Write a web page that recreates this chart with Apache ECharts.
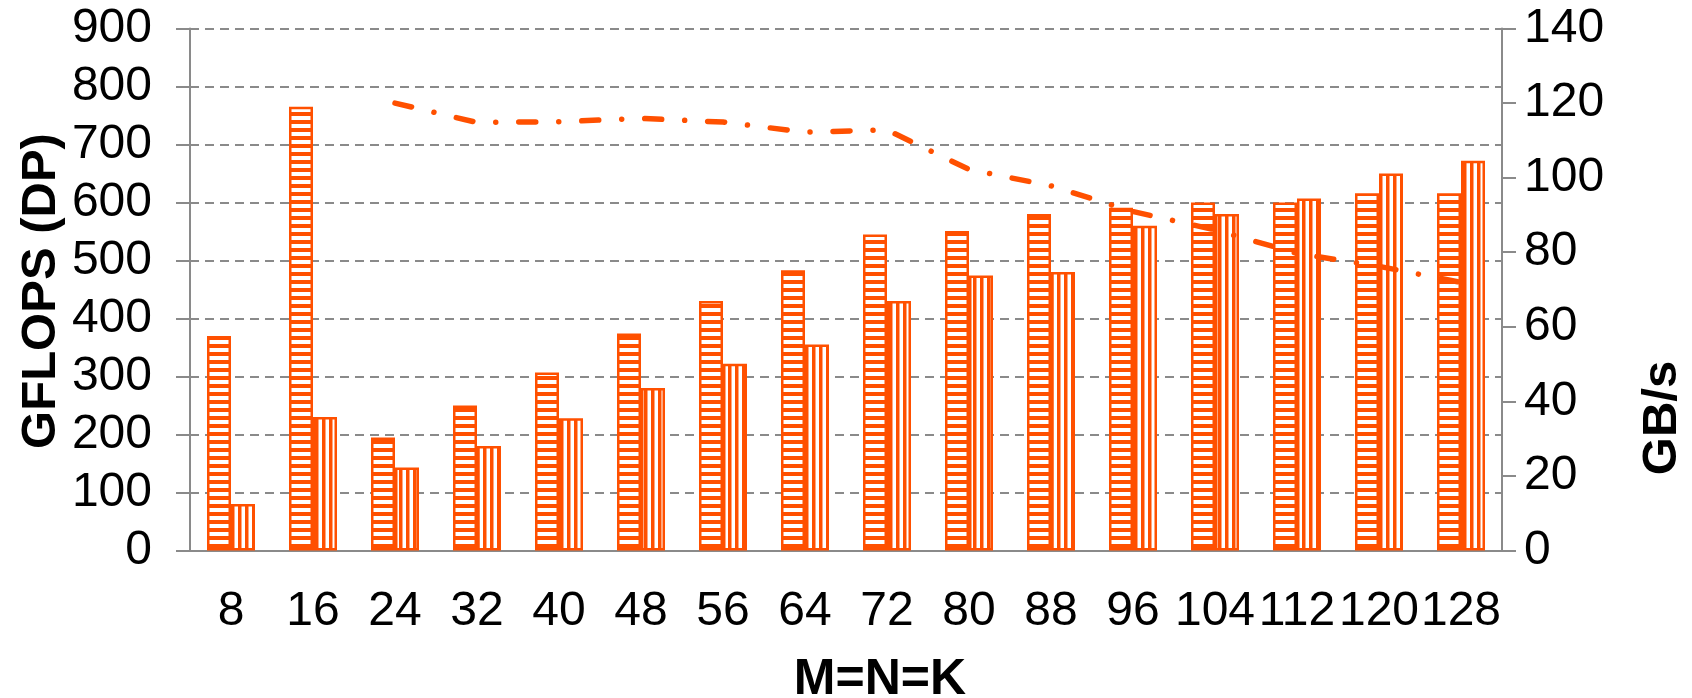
<!DOCTYPE html>
<html>
<head>
<meta charset="utf-8">
<script src="https://cdn.jsdelivr.net/npm/echarts@6/dist/echarts.min.js"></script>
<style>
  html, body { margin: 0; padding: 0; background: #fff; }
  #chart { width: 1692px; height: 698px; }
</style>
</head>
<body>
<div id="chart"></div>
<script>
// M=N=K sizes
const categories = ['8', '16', '24', '32', '40', '48', '56', '64', '72', '80', '88', '96', '104', '112', '120', '128'];
// GFLOPS (DP), horizontal-striped bars
const gflopsA = [370, 765, 195, 250, 307, 374, 430, 483, 545, 551, 580, 591, 600, 600, 616, 616];
// GFLOPS (DP), vertical-striped bars
const gflopsB = [80, 230, 143, 180, 228, 280, 322, 355, 430, 474, 480, 560, 580, 607, 650, 672];
// GB/s, dash-dot line (none for 8 and 16)
const bandwidth = [null, null, 120, 114.8, 115, 115.9, 114.9, 112.2, 112.8, 102.2, 97.8, 90.9, 86, 79.7, 76.2, 71.9];
const leftTicks = [0, 100, 200, 300, 400, 500, 600, 700, 800, 900];
const rightTicks = [0, 20, 40, 60, 80, 100, 120, 140];

const ORANGE = '#FF5000';
const GREY = '#8A8A8A';
const FONT = '"Liberation Sans", Arial, sans-serif';

// stripe fills for the bars
function stripes(horizontal) {
  const c = document.createElement('canvas');
  const ctx = c.getContext('2d');
  if (horizontal) {
    c.width = 8; c.height = 8;
    ctx.fillStyle = '#fff'; ctx.fillRect(0, 0, 8, 8);
    ctx.fillStyle = ORANGE; ctx.fillRect(0, 0, 8, 4);
  } else {
    c.width = 7; c.height = 7;
    ctx.fillStyle = '#fff'; ctx.fillRect(0, 0, 7, 7);
    ctx.fillStyle = ORANGE; ctx.fillRect(0, 0, 3.5, 7);
  }
  return c;
}

const chart = echarts.init(document.getElementById('chart'));

const tickFont = { fontSize: 48, color: '#000', fontFamily: FONT };

chart.setOption({
  animation: false,
  grid: { left: 190, right: 190, top: 28.5, bottom: 147.5, containLabel: false },
  xAxis: {
    type: 'category',
    data: categories,
    axisLine: { lineStyle: { color: GREY, width: 2 } },
    axisTick: { length: 14, lineStyle: { color: GREY, width: 2 } },
    axisLabel: Object.assign({ margin: 37, interval: 0 }, tickFont)
  },
  yAxis: [
    {
      type: 'value', min: 0, max: 900, interval: 100,
      axisLine: { show: true, lineStyle: { color: GREY, width: 2 } },
      axisTick: { show: true, length: 14, lineStyle: { color: GREY, width: 2 } },
      splitLine: { lineStyle: { color: GREY, width: 2, type: [9, 6] } },
      axisLabel: Object.assign({ margin: 38 }, tickFont)
    },
    {
      type: 'value', min: 0, max: 140, interval: 20,
      axisLine: { show: true, lineStyle: { color: GREY, width: 2 } },
      axisTick: { show: true, length: 14, lineStyle: { color: GREY, width: 2 } },
      splitLine: { show: false },
      axisLabel: Object.assign({ margin: 22 }, tickFont)
    }
  ],
  series: [
    {
      type: 'bar', data: gflopsA, barWidth: 24, barGap: '0%',
      itemStyle: { color: { image: stripes(true), repeat: 'repeat' }, borderColor: ORANGE, borderWidth: 2.5 }
    },
    {
      type: 'bar', data: gflopsB, barWidth: 24, barGap: '0%',
      itemStyle: { color: { image: stripes(false), repeat: 'repeat' }, borderColor: ORANGE, borderWidth: 2.5 }
    },
    {
      type: 'line', yAxisIndex: 1, data: bandwidth, showSymbol: false, symbol: 'none',
      lineStyle: { color: ORANGE, width: 5.5, type: [17, 23, 0.01, 23], cap: 'round' },
      z: 5
    }
  ],
  graphic: [
    { type: 'text', x: 41, y: 291, rotation: Math.PI / 2,
      style: { text: 'GFLOPS (DP)', font: 'bold 49px ' + FONT, fill: '#000', align: 'center', verticalAlign: 'middle' } },
    { type: 'text', x: 1662, y: 418, rotation: Math.PI / 2,
      style: { text: 'GB/s', font: 'bold 49px ' + FONT, fill: '#000', align: 'center', verticalAlign: 'middle' } },
    { type: 'text', x: 880, y: 680,
      style: { text: 'M=N=K', font: 'bold 50px ' + FONT, fill: '#000', align: 'center', verticalAlign: 'middle' } }
  ]
});
</script>
</body>
</html>
